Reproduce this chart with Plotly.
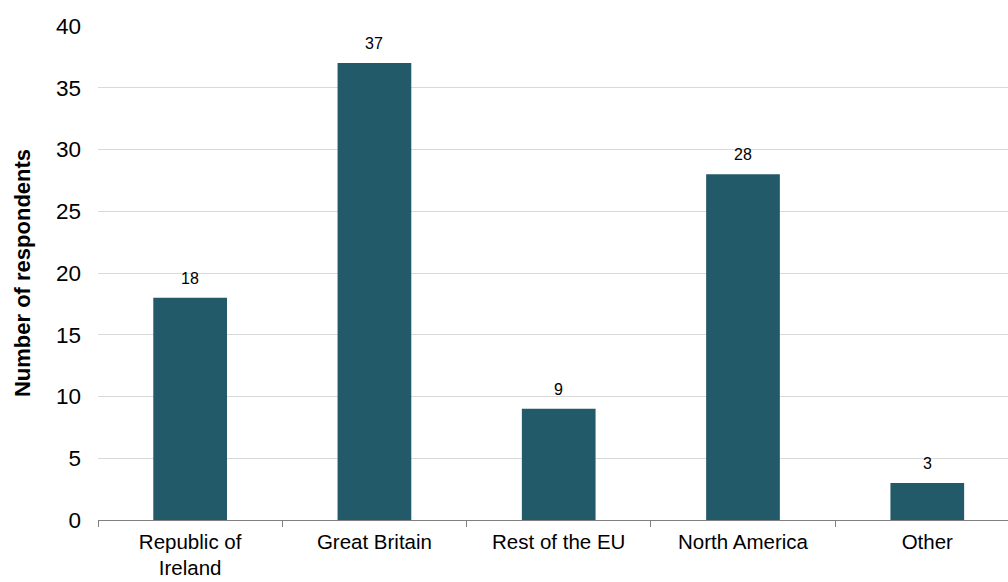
import plotly.graph_objects as go

categories = ["Republic of<br>Ireland", "Great Britain", "Rest of the EU", "North America", "Other"]
values = [18, 37, 9, 28, 3]
y_ticks = [0, 5, 10, 15, 20, 25, 30, 35, 40]

bar_color = "#225A69"
font_family = "Liberation Sans, Arial, sans-serif"

fig = go.Figure()
fig.add_trace(go.Bar(
    x=categories, y=values, marker=dict(color=bar_color, line=dict(width=0)),
    width=0.4, hoverinfo="skip",
))
for c, v in zip(categories, values):
    fig.add_annotation(x=c, y=v, text=str(v), showarrow=False, yanchor="bottom",
                       yshift=9, font=dict(size=16, color="#000000", family=font_family))

fig.update_layout(
    width=1008, height=582,
    margin=dict(l=98, r=0, t=26, b=62, autoexpand=False),
    paper_bgcolor="white", plot_bgcolor="white",
    showlegend=False,
    font=dict(family=font_family, color="#000000"),
)
fig.update_xaxes(
    type="category", range=[-0.5, 4.438], automargin=False,
    tickson="boundaries", ticks="outside", ticklen=6, tickcolor="#808080", tickwidth=1,
    showline=True, linecolor="#808080", linewidth=1, ticklabelstandoff=3,
    tickfont=dict(size=20.5, family=font_family), showgrid=False,
)
fig.update_yaxes(
    range=[0, 40], tickvals=y_ticks, showgrid=True, gridcolor="#D9D9D9", gridwidth=1,
    zeroline=False, showline=False, ticks="", ticklabelstandoff=16, automargin=False,
    tickfont=dict(size=22.5, family=font_family),
    title=dict(text="<b>Number of respondents</b>", font=dict(size=22, family=font_family), standoff=19),
)
fig.write_html("out.html", config={"displayModeBar": False},
               post_script="document.body.style.margin='0';document.body.style.overflow='hidden';")
